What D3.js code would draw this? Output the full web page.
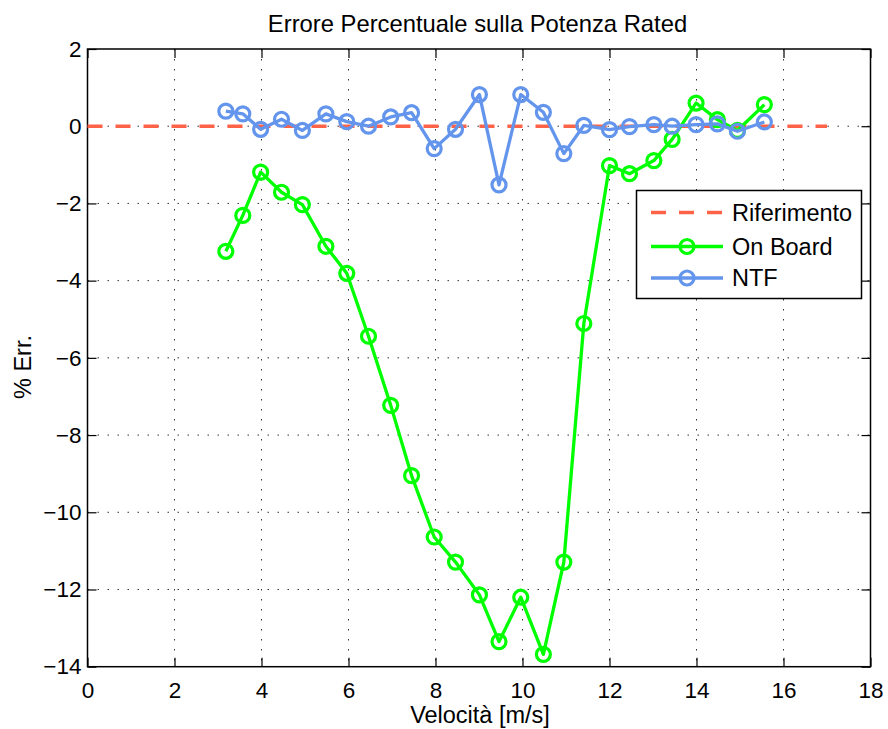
<!DOCTYPE html>
<html>
<head>
<meta charset="utf-8">
<script src="https://cdn.jsdelivr.net/npm/d3@7"></script>
<style>
  html, body { margin: 0; padding: 0; background: #fff; }
  svg { display: block; font-family: "Liberation Sans", Arial, sans-serif; }
</style>
</head>
<body>
<svg id="chart" width="888" height="729"></svg>
<script>
// Wind speeds [m/s]
const speeds = [3.18, 3.57, 3.98, 4.46, 4.94, 5.48, 5.96, 6.46, 6.97, 7.45, 7.97, 8.46, 9.01,
  9.46, 9.96, 10.48, 10.95, 11.41, 12.0, 12.46, 13.02, 13.44, 13.99, 14.48, 14.94, 15.56];
// Percent error on rated power, on-board estimate
const onBoard = [-3.24, -2.31, -1.19, -1.71, -2.03, -3.11, -3.81, -5.44, -7.23, -9.05, -10.64, -11.29, -12.14,
  -13.35, -12.2, -13.68, -11.29, -5.11, -1.02, -1.23, -0.89, -0.34, 0.6, 0.17, -0.11, 0.56];
// Percent error on rated power, NTF estimate
const ntf = [0.39, 0.32, -0.08, 0.18, -0.11, 0.32, 0.12, 0.0, 0.24, 0.35, -0.58, -0.08, 0.82,
  -1.52, 0.82, 0.36, -0.71, 0.02, -0.09, -0.01, 0.04, 0.0, 0.04, 0.06, -0.13, 0.11];
// Zero-error reference
const refX = [0, 17];
const refY = [0, 0];

const xTicks = [0, 2, 4, 6, 8, 10, 12, 14, 16, 18];
const yTicks = [2, 0, -2, -4, -6, -8, -10, -12, -14];

const legendNames = ["Riferimento", "On Board", "NTF"];

const C_REF = "#ff6347", C_OB = "#00ff00", C_NTF = "#6495ed";

const svg = d3.select("#chart");
const L = 87.5, R = 870.5, T = 49, B = 666.7;

const x = d3.scaleLinear().domain([0, 18]).range([L, R]);
const y = d3.scaleLinear().domain([-14, 2]).range([B, T]);

// Dotted grid
const grid = svg.append("g").attr("stroke", "#333").attr("stroke-width", 1)
  .attr("stroke-dasharray", "1.5,8.5");
grid.selectAll("line.gx").data(xTicks.slice(1, -1)).join("line")
  .attr("x1", d => x(d)).attr("x2", d => x(d)).attr("y1", T).attr("y2", B);
grid.selectAll("line.gy").data(yTicks.slice(1, -1)).join("line")
  .attr("y1", d => y(d)).attr("y2", d => y(d)).attr("x1", L).attr("x2", R);

// Axes with inward ticks on all four sides
const tickLen = 9;
const axB = svg.append("g").attr("transform", `translate(0,${B})`)
  .call(d3.axisBottom(x).tickValues(xTicks).tickSizeInner(-tickLen).tickSizeOuter(0).tickPadding(14));
const axT = svg.append("g").attr("transform", `translate(0,${T})`)
  .call(d3.axisTop(x).tickValues(xTicks).tickSizeInner(-tickLen).tickSizeOuter(0).tickFormat(""));
const axL = svg.append("g").attr("transform", `translate(${L},0)`)
  .call(d3.axisLeft(y).tickValues(yTicks).tickSizeInner(-tickLen).tickSizeOuter(0).tickPadding(6)
    .tickFormat(d => d < 0 ? "\u2212" + Math.abs(d) : d));
const axR = svg.append("g").attr("transform", `translate(${R},0)`)
  .call(d3.axisRight(y).tickValues(yTicks).tickSizeInner(-tickLen).tickSizeOuter(0).tickFormat(""));
[axB, axT, axL, axR].forEach(a => {
  a.select(".domain").remove();
  a.selectAll(".tick line").attr("stroke", "#000").attr("stroke-width", 1.2);
  a.selectAll("text").attr("fill", "#000").attr("font-size", 22.5)
    .attr("font-family", "'Liberation Sans', Arial, sans-serif");
});
axB.selectAll("text").attr("dy", "0.75em");

// Box
svg.append("rect").attr("x", L).attr("y", T).attr("width", R - L).attr("height", B - T)
  .attr("fill", "none").attr("stroke", "#000").attr("stroke-width", 1.5);

// Series
const line = d3.line().x(d => x(d[0])).y(d => y(d[1]));
svg.append("path").datum(d3.zip(refX, refY)).attr("d", line)
  .attr("fill", "none").attr("stroke", C_REF).attr("stroke-width", 3.5).attr("stroke-dasharray", "15,13");

function series(vals, color) {
  const pts = d3.zip(speeds, vals);
  const g = svg.append("g");
  g.append("path").datum(pts).attr("d", line)
    .attr("fill", "none").attr("stroke", color).attr("stroke-width", 3.3).attr("stroke-linejoin", "round");
  g.selectAll("circle").data(pts).join("circle")
    .attr("cx", d => x(d[0])).attr("cy", d => y(d[1])).attr("r", 7)
    .attr("fill", "none").attr("stroke", color).attr("stroke-width", 3.2);
}
series(onBoard, C_OB);
series(ntf, C_NTF);

// Title and axis labels
svg.append("text").attr("x", 477.5).attr("y", 31.5).attr("text-anchor", "middle")
  .attr("font-size", 23.8).text("Errore Percentuale sulla Potenza Rated");
svg.append("text").attr("x", 480).attr("y", 723).attr("text-anchor", "middle")
  .attr("font-size", 23.5).text("Velocità [m/s]");
svg.append("text").attr("transform", "translate(31,367) rotate(-90)").attr("text-anchor", "middle")
  .attr("font-size", 23.5).text("% Err.");

// Legend
const lg = svg.append("g");
lg.append("rect").attr("x", 636.5).attr("y", 190.5).attr("width", 225).attr("height", 108)
  .attr("fill", "#fff").attr("stroke", "#000").attr("stroke-width", 1.5);
const rows = [
  { name: legendNames[0], color: C_REF, dash: "15,13", marker: false, y: 212.5 },
  { name: legendNames[1], color: C_OB, dash: null, marker: true, y: 246.5 },
  { name: legendNames[2], color: C_NTF, dash: null, marker: true, y: 278 }
];
rows.forEach(r => {
  lg.append("line").attr("x1", 651).attr("x2", 723).attr("y1", r.y).attr("y2", r.y)
    .attr("stroke", r.color).attr("stroke-width", r.marker ? 3.3 : 3.5)
    .attr("stroke-dasharray", r.dash);
  if (r.marker) lg.append("circle").attr("cx", 687).attr("cy", r.y).attr("r", 7)
    .attr("fill", "none").attr("stroke", r.color).attr("stroke-width", 3.2);
  lg.append("text").attr("x", 732).attr("y", r.y).attr("dy", "0.36em")
    .attr("font-size", 23.5).text(r.name);
});
</script>
</body>
</html>
